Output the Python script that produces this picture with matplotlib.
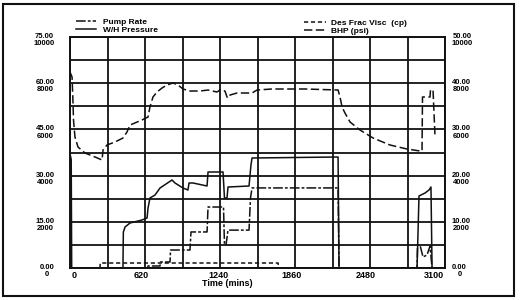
import numpy as np
import matplotlib
matplotlib.use('Agg')
import matplotlib.pyplot as plt
from matplotlib.patches import Rectangle
import matplotlib.transforms as mtransforms

plt.rcParams['font.family'] = ['Liberation Sans', 'DejaVu Sans']
plt.rcParams['lines.scale_dashes'] = False

# ---------------- data ----------------
# W/H Pressure (psi) vs time (mins)
wh_t = [0, 10, 14, 438, 438, 441, 455, 496, 595, 637, 645, 661, 703, 744, 769, 843, 868,
        934, 975, 984, 1017, 1133, 1141, 1265, 1277, 1298, 1306, 1480, 1496, 1505,
        2216, 2224, 2869, 2885, 2935, 2968, 2984, 2993, 3000]
wh_psi = [4950, 4700, 0, 0, 130, 1558, 1775, 1948, 2078, 2165, 2597, 3030, 3160, 3463, 3550,
          3810, 3680, 3463, 3377, 3680, 3680, 3550, 4156, 4156, 3030, 3030, 3506, 3550,
          4459, 4762, 4805, 0, 0, 3117, 3247, 3377, 3506, 0, 0]

# Pump Rate (bpm)
rate_t = [0, 640, 645, 744, 748, 827, 831, 992, 1000, 1133, 1141, 1269, 1277, 1290, 1306,
          1480, 1492, 1505, 2216, 2224, 2869, 2873, 2893, 2918, 2951, 2976, 2993]
rate_bpm = [0, 0, 0.65, 0.65, 1.95, 1.95, 5.84, 5.84, 11.7, 11.7, 19.8, 19.8, 7.5, 7.5, 12.3,
            12.3, 22.7, 26.0, 26.0, 0, 0, 7.5, 7.5, 3.6, 4.2, 7.1, 0]

# Des Frac Visc (cp)
visc_t = [248, 250, 1720, 1725]
visc_cp = [0, 1.08, 1.08, 0]

# BHP (psi)
bhp_t = [0, 17, 25, 29, 41, 66, 124, 207, 265, 273, 306, 372, 438, 471, 496, 595, 645, 661,
         686, 719, 761, 802, 851, 893, 934, 992, 1075, 1141, 1215, 1240, 1281, 1298, 1306,
         1323, 1381, 1505, 1546, 1670, 1943, 2216, 2232, 2249, 2273, 2315, 2397, 2505, 2645,
         2786, 2893, 2910, 2914, 2976, 2980, 3001, 3017]
bhp_psi = [8485, 8268, 7143, 6407, 5671, 5238, 4978, 4805, 4675, 5108, 5325, 5455, 5628, 5887,
           6190, 6407, 6537, 6970, 7403, 7619, 7792, 7922, 8009, 7922, 7749, 7662, 7662, 7705,
           7619, 7705, 7662, 7403, 7359, 7489, 7576, 7576, 7705, 7749, 7749, 7705, 7403, 6970,
           6710, 6320, 5974, 5628, 5325, 5151, 5065, 5065, 7403, 7403, 7705, 7705, 5758]

# axis ticks / labels
x_ticks = [0, 620, 1240, 1860, 2480, 3100]
left_rate_ticks = [0, 15, 30, 45, 60, 75]
left_wh_ticks = [0, 2000, 4000, 6000, 8000, 10000]
right_visc_ticks = [0, 10, 20, 30, 40, 50]
right_bhp_ticks = [0, 2000, 4000, 6000, 8000, 10000]

# ---------------- figure ----------------
W, H = 520, 300
fig = plt.figure(figsize=(W / 100, H / 100), dpi=100)
fig.patch.set_facecolor('white')

ax = fig.add_axes([70 / W, 32 / H, 375 / W, 231 / H])
ax_wh = ax.twinx()
ax_r = ax.twinx()
ax_bhp = ax.twinx()

lw = 1.1
k = '#111111'

ln_rate, = ax.plot(rate_t, rate_bpm, color=k, lw=lw, dashes=(7, 1.5, 2, 1.5), label='Pump Rate')
ln_wh, = ax_wh.plot(wh_t, wh_psi, color=k, lw=lw, label='W/H Pressure')
ln_visc, = ax_r.plot(visc_t, visc_cp, color=k, lw=lw, dashes=(3, 2), label='Des Frac Visc  (cp)')
ln_bhp, = ax_bhp.plot(bhp_t, bhp_psi, color=k, lw=lw, dashes=(6, 2.5), label='BHP (psi)')

for a in (ax, ax_wh, ax_r, ax_bhp):
    a.set_xlim(0, 3100)
ax.set_ylim(0, 75)
ax_wh.set_ylim(0, 10000)
ax_r.set_ylim(0, 50)
ax_bhp.set_ylim(0, 10000)

# grid
grid_x = np.arange(0, 3101, 310)
ax.set_xticks(grid_x)
ax.set_xticklabels([str(int(v)) if int(v) in x_ticks else '' for v in grid_x])
ax.set_yticks(np.arange(0, 75.1, 7.5))
ylabels = []
for v in np.arange(0, 75.1, 7.5):
    if any(abs(v - t) < 1e-6 for t in left_rate_ticks):
        i = [abs(v - t) < 1e-6 for t in left_rate_ticks].index(True)
        ylabels.append(f'{left_rate_ticks[i]:.2f}\n{left_wh_ticks[i]}')
    else:
        ylabels.append('')
ax.set_yticklabels(ylabels, fontsize=5.5, fontweight='bold', multialignment='center',
                   linespacing=1.05)
ax.grid(True, color=k, lw=1.3)
ax.set_axisbelow(True)
ax.tick_params(axis='both', length=0)
ax.tick_params(axis='y', pad=11)
ax.tick_params(axis='x', pad=2.5, labelsize=6.5)
for l in ax.get_xticklabels():
    l.set_fontweight('bold')

ax_r.set_yticks(np.arange(0, 50.1, 5))
rlabels = []
for v in np.arange(0, 50.1, 5):
    if any(abs(v - t) < 1e-6 for t in right_visc_ticks):
        i = [abs(v - t) < 1e-6 for t in right_visc_ticks].index(True)
        rlabels.append(f'{right_visc_ticks[i]:.2f}\n{right_bhp_ticks[i]}')
    else:
        rlabels.append('')
ax_r.set_yticklabels(rlabels, fontsize=5.5, fontweight='bold', multialignment='center',
                     linespacing=1.05)
ax_r.tick_params(axis='y', length=0, pad=5)

for a in (ax_wh, ax_bhp):
    a.set_yticks([])
for a in (ax_wh, ax_r, ax_bhp):
    for s in a.spines.values():
        s.set_visible(False)
for s in ax.spines.values():
    s.set_linewidth(1.4)
    s.set_color(k)

off = mtransforms.ScaledTranslation(0, -2.0 / 100, fig.dpi_scale_trans)
for l in ax.get_yticklabels() + ax_r.get_yticklabels():
    l.set_transform(l.get_transform() + off)

# small horizontal shifts of the x tick labels as in the scanned original
x_shift_px = {0: 4, 620: -4, 1240: -2, 1860: -3, 2480: -4, 3100: -11}
for v, l in zip(grid_x, ax.get_xticklabels()):
    dx = x_shift_px.get(int(v), 0)
    l.set_transform(l.get_transform() +
                    mtransforms.ScaledTranslation(dx / 100, 0, fig.dpi_scale_trans))

ax.set_xlabel('Time (mins)', fontsize=6.5, fontweight='bold')
ax.xaxis.set_label_coords(0.42, -0.048)
ax.xaxis.label.set_va('top')

# legends
leg1 = fig.legend(handles=[ln_rate, ln_wh], loc='upper left',
                  bbox_to_anchor=(76 / W, 1 - 18 / H), frameon=False,
                  prop={'size': 6, 'weight': 'bold'}, handlelength=2.4,
                  handletextpad=0.8, labelspacing=0.05, borderpad=0, borderaxespad=0)
leg2 = fig.legend(handles=[ln_visc, ln_bhp], loc='upper left',
                  bbox_to_anchor=(304 / W, 1 - 19 / H), frameon=False,
                  prop={'size': 6, 'weight': 'bold'}, handlelength=2.6,
                  handletextpad=0.6, labelspacing=0.05, borderpad=0, borderaxespad=0)

# outer frame
fig.patches.append(Rectangle((3 / W, 4 / H), 511 / W, 292 / H, transform=fig.transFigure,
                             fill=False, lw=1.5, edgecolor=k))

fig.savefig('out.png', dpi=100)
